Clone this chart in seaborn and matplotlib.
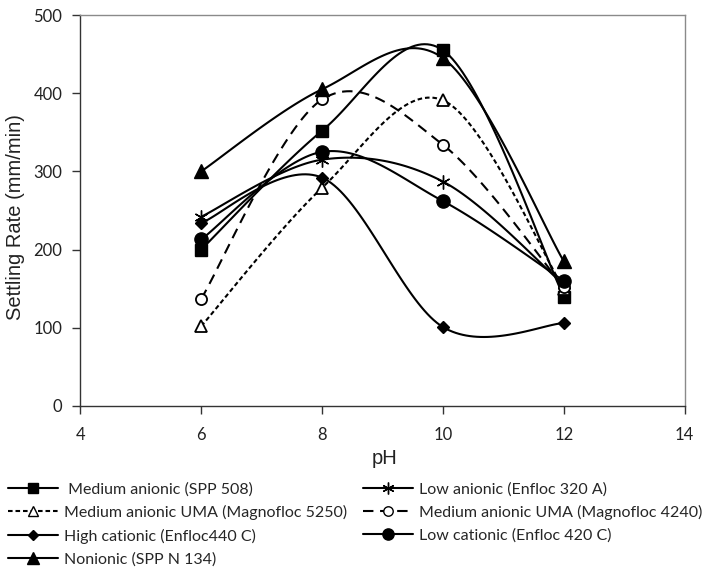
import numpy as np
import matplotlib
matplotlib.use("Agg")
import matplotlib.pyplot as plt
import seaborn as sns
from matplotlib.lines import Line2D

# ---- data ----
ph = [6, 8, 10, 12]
spp508 = [200, 352, 455, 140]
enfloc320a = [242, 315, 287, 155]
magno5250 = [102, 279, 391, 150]
magno4240 = [137, 392, 334, 152]
enfloc440c = [234, 292, 101, 106]
enfloc420c = [213, 325, 262, 160]
sppn134 = [300, 405, 445, 185]

names = [
    " Medium anionic (SPP 508)",
    "Low anionic (Enfloc 320 A)",
    "Medium anionic UMA (Magnofloc 5250)",
    "Medium anionic UMA (Magnofloc 4240)",
    "High cationic (Enfloc440 C)",
    "Low cationic (Enfloc 420 C)",
    "Nonionic (SPP N 134)",
]
series = [spp508, enfloc320a, magno5250, magno4240, enfloc440c, enfloc420c, sppn134]

sns.set_style("ticks")
plt.rcParams["font.family"] = ["Lato", "DejaVu Sans"]

styles = [
    dict(marker="s", ms=9, mfc="black", ls="-", dashes=None),
    dict(marker=(6, 2, 0), ms=10, mfc="black", ls="-", dashes=None),
    dict(marker="^", ms=8, mfc="white", ls="--", dashes=(2.2, 1.4)),
    dict(marker="o", ms=8, mfc="white", ls="--", dashes=(5, 3.2)),
    dict(marker="D", ms=6.5, mfc="black", ls="-", dashes=None),
    dict(marker="o", ms=9.5, mfc="black", ls="-", dashes=None),
    dict(marker="^", ms=9.5, mfc="black", ls="-", dashes=None),
]


def smooth(xs, ys, n=40):
    P = np.column_stack([xs, ys]).astype(float)
    out = []
    for i in range(len(P) - 1):
        p0 = P[i - 1] if i > 0 else P[i]
        p1, p2 = P[i], P[i + 1]
        p3 = P[i + 2] if i + 2 < len(P) else P[i + 1]
        c1 = p1 + (p2 - p0) / 6.0
        c2 = p2 - (p3 - p1) / 6.0
        t = np.linspace(0, 1, n)[:, None]
        seg = ((1 - t) ** 3) * p1 + 3 * ((1 - t) ** 2) * t * c1 + 3 * (1 - t) * t ** 2 * c2 + t ** 3 * p2
        out.append(seg if i == 0 else seg[1:])
    arr = np.vstack(out)
    return arr[:, 0], arr[:, 1]


fig = plt.figure(figsize=(7.09, 5.72), dpi=100)
ax = fig.add_axes([80.3 / 709, 1 - 406 / 572, (684.7 - 80.3) / 709, (406 - 15) / 572])

handles = []
for vals, st, nm in zip(series, styles, names):
    sx, sy = smooth(ph, vals)
    line = sns.lineplot(x=sx, y=sy, ax=ax, color="black", lw=1.5, sort=False,
                        estimator=None).lines[-1]
    if st["dashes"] is not None:
        line.set_dashes(st["dashes"])
    ax.plot(ph, vals, linestyle="none", marker=st["marker"], ms=st["ms"],
            mfc=st["mfc"], mec="black", mew=1.3 if st["mfc"] == "white" else 1.0,
            color="black", zorder=3)
    h = Line2D([], [], color="black", lw=1.5, marker=st["marker"], ms=st["ms"] * 0.85,
               mfc=st["mfc"], mec="black", mew=1.0)
    if st["dashes"] is not None:
        h.set_dashes(st["dashes"])
    handles.append(h)

ax.set_xlim(4, 14)
ax.set_ylim(0, 500)
ax.set_xticks([4, 6, 8, 10, 12, 14])
ax.set_yticks([0, 100, 200, 300, 400, 500])
ax.tick_params(axis="both", direction="out", length=6, width=1, color="#333333",
               labelsize=12, labelcolor="#222222")
ax.tick_params(axis="x", pad=9)
ax.tick_params(axis="y", pad=7)

for s in ["left", "bottom"]:
    ax.spines[s].set_color("#333333")
    ax.spines[s].set_linewidth(1.0)
for s in ["top", "right"]:
    ax.spines[s].set_visible(True)
    ax.spines[s].set_color("#8a8a8a")
    ax.spines[s].set_linewidth(1.0)

ax.set_xlabel("pH", fontsize=14.5, family=["Liberation Sans", "DejaVu Sans"],
              va="center", ha="center", color="#222222")
ax.set_ylabel("Settling Rate (mm/min)", fontsize=14.5, family=["Liberation Sans", "DejaVu Sans"],
              va="center", ha="center", color="#222222")
ax.xaxis.set_label_coords(0.504, -0.1355)
ax.yaxis.set_label_coords(-0.107, 0.483)

# legend: column-first ordering
order = [0, 2, 4, 6, 1, 3, 5]
fig.legend([handles[i] for i in order], [names[i] for i in order],
           loc="upper left", bbox_to_anchor=(8 / 709, 1 - 482 / 572),
           ncol=2, frameon=False, fontsize=11.5, handlelength=3.1,
           handletextpad=0.4, labelspacing=0.54, columnspacing=1.0,
           borderpad=0, borderaxespad=0)

fig.savefig("out.png", dpi=100)
